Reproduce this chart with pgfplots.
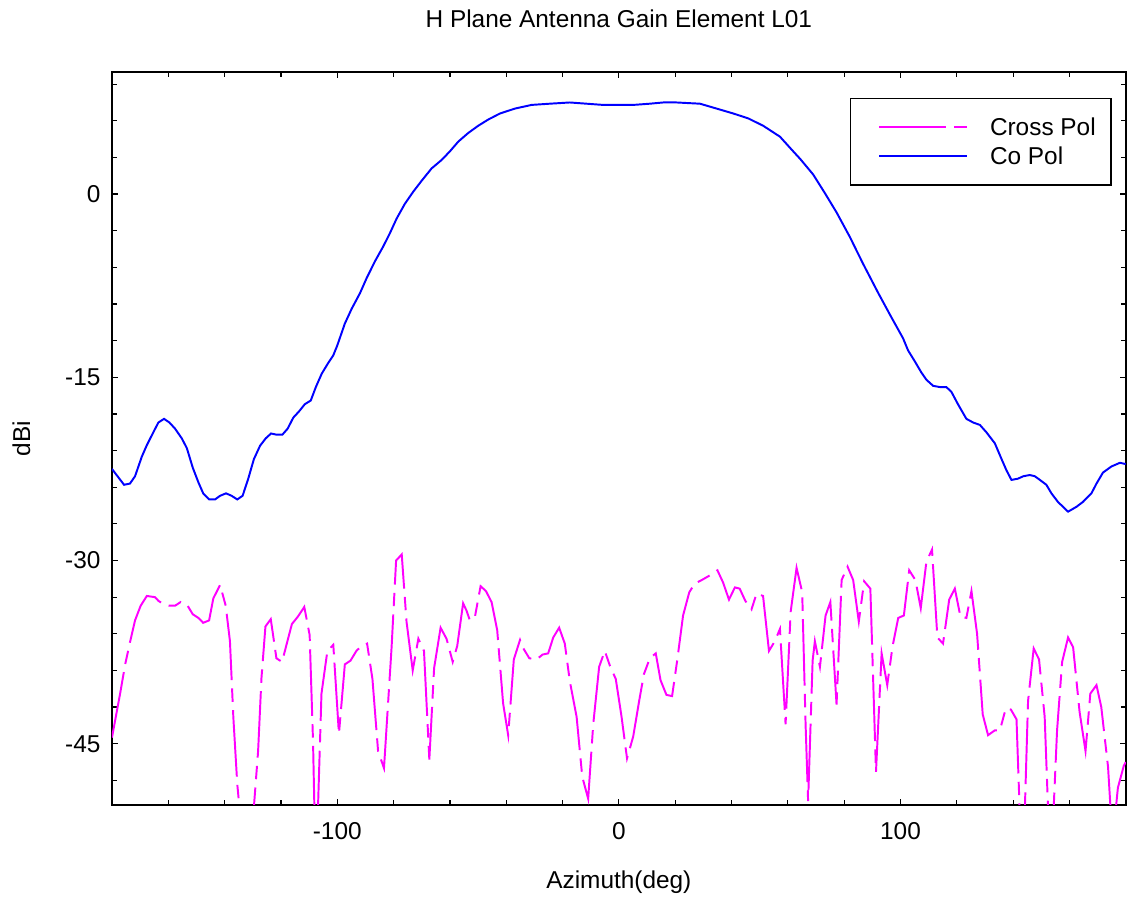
\documentclass[border=0pt]{standalone}
\usepackage{pgfplots}
\pgfplotsset{compat=1.18}
\usepackage{pgfplotstable}
\usepackage{fontspec}
\setmainfont{Liberation Sans}

\definecolor{copol}{RGB}{0,0,255}
\definecolor{xpol}{RGB}{255,0,255}

% co-polar gain, dBi vs azimuth
\pgfplotstableread{
az gain
-180 -22.5
-175.7 -23.8
-173.6 -23.7
-171.8 -23.1
-169.4 -21.5
-167.7 -20.6
-165.3 -19.5
-163.5 -18.7
-161.5 -18.4
-159.6 -18.7
-157.6 -19.2
-155.2 -20.0
-153.4 -20.8
-151.3 -22.4
-149.3 -23.6
-147.6 -24.5
-145.5 -25.0
-143.4 -25.0
-141.6 -24.7
-139.5 -24.5
-137.5 -24.7
-135.5 -25.0
-133.6 -24.7
-131.6 -23.3
-129.6 -21.7
-127.4 -20.6
-125.4 -20.0
-123.5 -19.6
-121.5 -19.7
-119.5 -19.7
-117.6 -19.2
-115.6 -18.3
-113.6 -17.8
-111.5 -17.2
-109.4 -16.9
-107.6 -15.8
-105.5 -14.7
-103.4 -13.9
-101.4 -13.2
-100 -12.4
-97.3 -10.6
-94.9 -9.4
-91.9 -8.1
-89.6 -6.9
-86.6 -5.5
-83.7 -4.3
-81.3 -3.2
-78.9 -2.0
-76.0 -0.8
-73.0 0.2
-70.0 1.1
-66.5 2.1
-62.9 2.8
-60.0 3.5
-57.0 4.3
-53.5 5.0
-49.9 5.6
-46.4 6.1
-42.2 6.6
-36.9 7.0
-31.0 7.3
-24.5 7.4
-17.4 7.5
-11.5 7.4
-5.6 7.3
-0.8 7.3
5.1 7.3
11.0 7.4
15.7 7.5
20.5 7.5
28.8 7.4
34.7 7.0
40.6 6.6
45.9 6.2
51.2 5.6
57.2 4.7
61.9 3.5
64.3 2.9
69.0 1.6
73.1 0.1
77.3 -1.5
82.0 -3.5
86.7 -5.7
92.1 -8.1
96.8 -10.1
100.9 -11.8
102.7 -12.8
105.1 -13.7
107.4 -14.6
109.2 -15.2
111.6 -15.7
114.0 -15.8
116.3 -15.8
118.1 -16.2
120.4 -17.2
123.4 -18.4
125.8 -18.7
128.2 -18.9
130.5 -19.5
133.5 -20.4
135.9 -21.7
137.6 -22.6
139.4 -23.4
141.7 -23.3
143.6 -23.1
145.9 -23.0
147.7 -23.1
149.5 -23.4
151.8 -23.8
153.6 -24.5
155.9 -25.2
157.7 -25.6
159.5 -26.0
162.5 -25.6
164.8 -25.2
167.8 -24.5
169.6 -23.7
171.9 -22.8
174.9 -22.3
177.9 -22.0
180 -22.1
}\copoltab

% cross-polar gain
\pgfplotstableread{
az gain
-180 -44.5
-177.1 -40.9
-175.3 -38.5
-173.6 -36.7
-171.8 -34.9
-169.8 -33.7
-167.6 -32.9
-164.7 -33.0
-163.5 -33.3
-161.5 -33.6
-159.6 -33.7
-157.6 -33.7
-155.6 -33.4
-153.4 -33.6
-151.3 -34.4
-149.3 -34.7
-147.6 -35.1
-145.5 -34.9
-144.0 -33.1
-141.6 -32.0
-139.6 -33.7
-138.1 -36.6
-136.9 -42.8
-135.5 -48.3
-133.2 -54
-131.5 -56
-128.1 -45.6
-126.9 -39.6
-125.5 -35.4
-123.6 -34.8
-121.6 -38.0
-119.6 -38.3
-117.8 -36.7
-116.1 -35.2
-114.0 -34.6
-111.7 -33.8
-109.8 -36.1
-108.6 -44.8
-107.6 -56
-105.6 -40.9
-103.5 -37.4
-101.4 -36.9
-99.4 -44.2
-97.3 -38.5
-95.3 -38.2
-93.2 -37.4
-91.4 -37.0
-89.4 -36.8
-87.5 -39.7
-85.5 -45.6
-83.4 -47.0
-80.7 -37.1
-79.1 -30.0
-77.1 -29.5
-75.4 -35.0
-73.2 -39.0
-71.2 -36.4
-69.2 -37.4
-67.3 -46.3
-65.6 -38.8
-63.3 -35.5
-61.2 -36.4
-59.0 -38.3
-57.4 -37.0
-55.3 -33.5
-54.1 -34.1
-52.9 -34.9
-51.1 -34.6
-49.1 -32.1
-47.2 -32.5
-45.2 -33.4
-43.2 -35.7
-41.1 -41.7
-39.3 -44.3
-37.3 -38.1
-35.1 -36.5
-33.9 -37.2
-31.8 -38.0
-29.2 -38.1
-27.1 -37.7
-25.1 -37.6
-23.3 -36.3
-21.2 -35.5
-19.2 -36.8
-17.4 -39.9
-15.0 -42.8
-13.0 -47.7
-10.9 -49.5
-9.1 -43.4
-7.0 -38.7
-5.0 -37.4
-3.2 -38.6
-1.1 -39.7
0.9 -42.7
2.9 -46.2
5.1 -44.4
7.2 -41.5
8.9 -39.3
11.0 -38.0
13.1 -37.6
14.8 -39.8
16.9 -41.0
18.9 -41.1
20.7 -38.2
22.8 -34.5
25.0 -32.6
26.9 -31.9
29.4 -31.6
31.7 -31.3
35.0 -30.8
37.0 -31.8
39.1 -33.2
41.2 -32.2
42.9 -32.3
44.9 -33.3
47.1 -34.0
48.9 -32.7
51.2 -32.9
53.3 -37.4
55.4 -36.6
57.2 -35.6
59.2 -43.4
61.0 -34.2
63.1 -30.6
65.1 -32.6
66.3 -43.4
67.2 -49.7
68.8 -38.2
69.6 -36.6
71.4 -38.7
73.4 -34.5
75.1 -33.4
77.3 -41.8
79.1 -31.6
81.2 -30.5
83.2 -31.6
85.2 -35.0
87.1 -31.7
89.3 -32.3
91.3 -47.3
93.3 -37.6
95.3 -40.2
97.2 -37.0
99.2 -34.7
101.2 -34.5
103.1 -30.8
105.3 -31.6
107.2 -33.9
109.2 -30.1
111.2 -29.1
113.1 -36.3
115.1 -36.8
117.3 -33.2
119.3 -32.3
121.3 -34.6
123.4 -34.7
125.2 -32.5
127.2 -36.0
129.2 -42.6
131.1 -44.3
133.5 -43.9
135.3 -43.9
137.4 -42.1
139.2 -42.2
141.2 -43.0
143.3 -57
145.3 -41.5
147.3 -37.2
149.2 -38.1
151.2 -42.8
153.3 -56
155.6 -43.9
157.4 -38.3
159.5 -36.3
161.3 -37.1
163.6 -42.4
165.7 -45.6
167.4 -40.9
169.6 -40.2
171.3 -42.0
173.7 -46.9
175.3 -53
177.2 -48.6
179.3 -46.8
180 -46.5
}\xpoltab

\begin{document}
\begin{tikzpicture}
\begin{axis}[
    scale only axis,
    width=415.7pt, height=300.5pt,
    xmin=-180, xmax=180,
    ymin=-50, ymax=10,
    font=\fontsize{10}{12}\selectfont,
    axis line style={line width=1pt},
    tick align=inside,
    major tick length=2.5pt, minor tick length=2pt,
    every tick/.style={black, line width=0.5pt},
    xtick={-100,0,100}, xticklabels={-100,0,100},
    minor xtick={-160,-140,-120,-80,-60,-40,-20,20,40,60,80,120,140,160},
    ytick={-45,-30,-15,0}, yticklabels={-45,-30,-15,0},
    minor ytick={-48,-45,...,9},
    xticklabel style={anchor=base, inner sep=0pt, yshift=-14.4pt},
    yticklabel style={anchor=east, inner sep=0pt, xshift=-4.5pt},
    title={H Plane Antenna Gain Element L01},
    title style={at={(0.5,1)}, anchor=base, yshift=12.3pt, inner sep=0pt},
    xlabel={Azimuth(deg)},
    xlabel style={at={(0.5,0)}, anchor=base, yshift=-34.4pt, inner sep=0pt},
    ylabel={dBi},
    ylabel style={at={(axis description cs:-0.0808,0.5)}, anchor=base, inner sep=0pt},
    legend cell align=left,
    legend image code/.code={\path (0pt,0pt); \draw[#1] (5.3pt,0pt) -- (41.3pt,0pt);},
    legend style={at={(rel axis cs:0.986,0.9645)}, anchor=north east,
        draw=black, line width=0.6pt, inner xsep=6.2pt, inner ysep=6.5pt,
        row sep=1.4pt, column sep=9pt,
        nodes={inner sep=0pt, text height=8.4pt, text depth=2.1pt}},
]
\addplot[xpol, line width=0.8pt, dash pattern=on 27.3pt off 3.4pt on 5.5pt off 3.4pt]
    table[x=az, y=gain] {\xpoltab};
\addlegendentry{Cross Pol}
\addplot[copol, line width=0.8pt] table[x=az, y=gain] {\copoltab};
\addlegendentry{Co Pol}
\end{axis}
\pgfresetboundingbox
\path[use as bounding box] ([xshift=-45.9pt,yshift=-38.1pt]current axis.south west)
    rectangle ([xshift=0.5pt,yshift=29.5pt]current axis.north east);
\end{tikzpicture}
\end{document}
